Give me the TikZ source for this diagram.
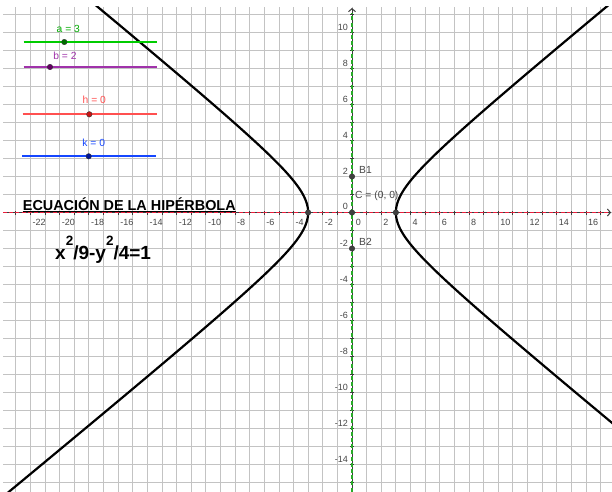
\documentclass[tikz,border=0pt]{standalone}
\usepackage{fontspec}
\setmainfont{Liberation Sans}
\usetikzlibrary{arrows.meta}
\definecolor{gridc}{RGB}{195,195,195}
\definecolor{axisc}{RGB}{60,60,60}
\definecolor{xdash}{RGB}{235,30,60}
\definecolor{ydash}{RGB}{40,170,40}
\definecolor{sla}{RGB}{0,204,0}
\definecolor{slad}{RGB}{0,110,0}
\definecolor{slb}{RGB}{160,50,170}
\definecolor{slbd}{RGB}{100,0,100}
\definecolor{slh}{RGB}{255,80,80}
\definecolor{slhd}{RGB}{200,20,20}
\definecolor{slk}{RGB}{20,70,255}
\definecolor{slkd}{RGB}{0,20,150}
\definecolor{lblc}{RGB}{70,70,70}
\begin{document}
\begin{tikzpicture}[x=1pt,y=-1pt,
  gridline/.style={gridc, line width=0.8pt},
  ticklbl/.style={font=\fontsize{9}{10}\selectfont, text=lblc, inner sep=0pt},
  ptlbl/.style={font=\fontsize{10.3}{11}\selectfont, text=lblc, inner sep=0pt},
  sllbl/.style={font=\fontsize{10.3}{11}\selectfont, inner sep=0pt},
  dot/.style={circle, fill=#1, draw=black!80, line width=0.4pt, inner sep=0pt, minimum size=5.5pt},
  slline/.style={line width=2pt},
  curve/.style={black, line width=2.2pt}]
\useasboundingbox (0,0) rectangle (612,491);
\fill[white] (0,0) rectangle (612,491);
% ---------- data coordinate system ----------
\begin{scope}[shift={(352,212.5)}, x=14.62pt, y=18pt]
  \begin{scope}
    \clip (-23.87,-15.5) rectangle (17.8,11.42);
    \foreach \i in {-23,...,17} \draw[gridline] (\i,-15.5) -- (\i,11.42);
    \foreach \j in {-15,...,11} \draw[gridline] (-23.87,\j) -- (17.8,\j);
    % axes
    \coordinate (xl) at (-23.87,0);
    \coordinate (xr) at (17.72,0);
    \coordinate (yb) at (0,-15.5);
    \coordinate (yt) at (0,11.36);
    \draw[axisc, line width=1pt, -{Straight Barb[length=3pt,width=7pt]}] (xl) -- (xr);
    \draw[axisc, line width=1pt, -{Straight Barb[length=3pt,width=7pt]}] (yb) -- (yt);
    \foreach \i in {-23,...,17} \draw[axisc, line width=0.8pt] (\i,0) ++(0pt,-2pt) -- ++(0pt,4pt);
    \foreach \j in {-15,...,11} \draw[axisc, line width=0.8pt] (0,\j) ++(-2pt,0pt) -- ++(4pt,0pt);
    \draw[xdash, line width=1.4pt, dash pattern=on 4pt off 2.2pt] (-23.87,0) -- (17.5,0);
    \draw[ydash, line width=1.4pt, dash pattern=on 4pt off 2.2pt] (0,-15.5) -- (0,11.1);
    % hyperbola
    \draw[curve] plot[variable=\t, domain=-2.85:2.85, samples=160, smooth] ({3*cosh(\t)},{2*sinh(\t)});
    \draw[curve] plot[variable=\t, domain=-2.85:2.85, samples=160, smooth] ({-3*cosh(\t)},{2*sinh(\t)});
  \end{scope}
  % points
  \node[dot=black!75] (V1) at (-3,0) {};
  \node[dot=black!75] (V2) at (3,0) {};
  \node[dot=black!75] (C) at (0,0) {};
  \node[dot=black!75] (B1) at (0,2) {};
  \node[dot=black!75] (B2) at (0,-2) {};
\end{scope}
% ---------- tick labels ----------
\foreach \n in {-22,-20,...,-2} \node[ticklbl, anchor=west] at ({352+\n*14.62+2},222) {\n};
\foreach \n in {2,4,...,16} \node[ticklbl, anchor=west] at ({352+\n*14.62+2},222) {\n};
\node[ticklbl] (x0) at (358.3,222) {0};
\foreach \n in {10,8,...,2} \node[ticklbl, anchor=east] at (348,{212.5-\n*18-5}) {\n};
\foreach \n in {-2,-4,...,-14} \node[ticklbl, anchor=east] at (348,{212.5-\n*18-5}) {\n};
\node[ticklbl, anchor=east] (y0) at (348,206.5) {0};
% ---------- point labels ----------
\node[ptlbl, anchor=west] (lC) at (355,196) {C = (0, 0)};
\node[ptlbl, anchor=west] (lB1) at (359,170) {B1};
\node[ptlbl, anchor=west] (lB2) at (359,242) {B2};
% ---------- title and equation ----------
\node[inner sep=0pt, anchor=base west, font=\fontsize{14.4}{15}\selectfont\bfseries] (title) at (22.7,210.3) {ECUACIÓN DE LA HIPÉRBOLA};
\draw[black, line width=1pt] ([yshift=-1.6pt]title.base west) -- ([yshift=-1.6pt]title.base east);
\node[inner sep=0pt, anchor=base west, font=\fontsize{19}{19}\selectfont\bfseries] (eq) at (55,259)
  {x\raisebox{13.5pt}{\fontsize{13.5}{13.5}\selectfont 2}/9-y\raisebox{13.5pt}{\fontsize{13.5}{13.5}\selectfont 2}/4=1};
% ---------- sliders ----------
\coordinate (a1) at (23.7,42); \coordinate (a2) at (157.3,42);
\coordinate (b1) at (23.5,67); \coordinate (b2) at (157,67);
\coordinate (h1) at (22.7,114.3); \coordinate (h2) at (156.7,114.3);
\coordinate (k1) at (22,156.3); \coordinate (k2) at (156,156.3);
\draw[slline, sla] (a1) -- (a2);
\draw[slline, slb] (b1) -- (b2);
\draw[slline, slh] (h1) -- (h2);
\draw[slline, slk] (k1) -- (k2);
\node[dot=slad] (pa) at (64.3,42) {};
\node[dot=slbd] (pb) at (50,67) {};
\node[dot=slhd] (ph) at (89.3,114.3) {};
\node[dot=slkd] (pk) at (88.7,156.3) {};
\node[sllbl, text=sla!85!black] (la) at (68.3,28.5) {a = 3};
\node[sllbl, text=slb] (lb) at (65,55.5) {b = 2};
\node[sllbl, text=slh] (lh) at (94.3,100) {h = 0};
\node[sllbl, text=slk] (lk) at (93.7,143) {k = 0};
\end{tikzpicture}
\end{document}
